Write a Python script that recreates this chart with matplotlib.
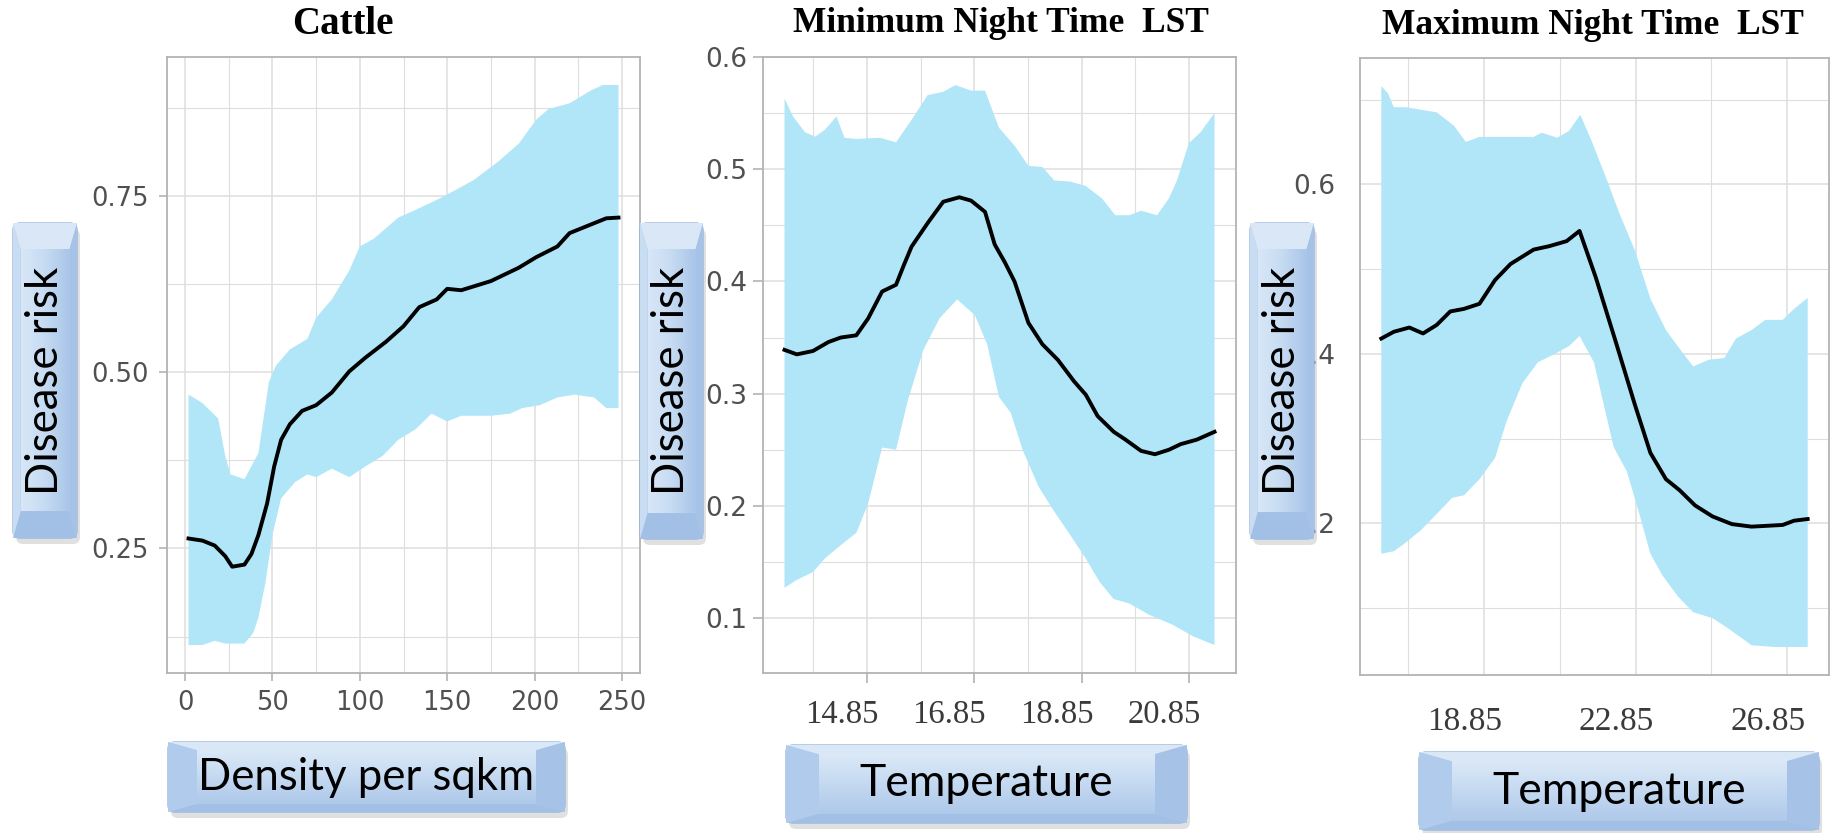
import numpy as np
import matplotlib
matplotlib.use("Agg")
import matplotlib.pyplot as plt
from matplotlib.patches import FancyBboxPatch, Polygon
from matplotlib.colors import LinearSegmentedColormap
from matplotlib.transforms import ScaledTranslation

# ---- data ----
# Cattle
cattle_x = [2, 10, 17, 23, 27, 34, 38, 42, 47, 51, 55, 60, 67, 75, 84, 94, 103, 115, 125,
            134, 144, 150, 158, 175, 191, 201, 213, 220, 229, 241, 248]
cattle_mean = [0.264, 0.261, 0.254, 0.239, 0.224, 0.227, 0.242, 0.269, 0.314, 0.366, 0.404,
               0.426, 0.445, 0.453, 0.471, 0.501, 0.520, 0.543, 0.565, 0.592, 0.603, 0.618,
               0.616, 0.629, 0.648, 0.663, 0.678, 0.697, 0.706, 0.718, 0.719]
cattle_hi_x = [2, 10, 19, 23, 26, 34, 42, 48, 52, 60, 70, 75, 84, 94, 100, 108, 122, 132, 148,
               165, 179, 191, 201, 208, 220, 232, 239, 248]
cattle_hi = [0.468, 0.456, 0.434, 0.381, 0.355, 0.348, 0.385, 0.486, 0.509, 0.532, 0.547,
             0.577, 0.603, 0.644, 0.678, 0.689, 0.719, 0.730, 0.749, 0.772, 0.798, 0.824,
             0.858, 0.873, 0.881, 0.899, 0.907, 0.907]
cattle_lo_x = [2, 10, 17, 23, 34, 39, 42, 46, 50, 55, 63, 70, 75, 84, 94, 103, 113, 122, 132,
               141, 150, 158, 175, 186, 193, 203, 213, 223, 234, 241, 248]
cattle_lo = [0.113, 0.113, 0.119, 0.115, 0.115, 0.130, 0.152, 0.201, 0.269, 0.321, 0.344,
             0.355, 0.351, 0.363, 0.351, 0.366, 0.381, 0.404, 0.419, 0.441, 0.430, 0.438,
             0.438, 0.441, 0.449, 0.453, 0.464, 0.468, 0.464, 0.449, 0.449]

# Minimum night time LST
min_x = [13.31, 13.54, 13.84, 14.13, 14.36, 14.65, 14.87, 15.13, 15.39, 15.54, 15.68, 15.98,
         16.27, 16.57, 16.79, 17.05, 17.23, 17.42, 17.60, 17.86, 18.12, 18.41, 18.71, 18.93,
         19.15, 19.45, 19.67, 19.96, 20.22, 20.48, 20.70, 21.00, 21.33]
min_mean = [0.339, 0.335, 0.338, 0.346, 0.350, 0.352, 0.367, 0.391, 0.397, 0.415, 0.431,
            0.452, 0.471, 0.475, 0.472, 0.462, 0.433, 0.417, 0.400, 0.363, 0.344, 0.330,
            0.311, 0.299, 0.280, 0.266, 0.259, 0.249, 0.246, 0.250, 0.255, 0.259, 0.266]
min_hi_x = [13.31, 13.47, 13.69, 13.88, 14.06, 14.28, 14.43, 14.65, 15.09, 15.39, 15.68,
            15.98, 16.27, 16.50, 16.79, 17.05, 17.31, 17.60, 17.86, 18.12, 18.34, 18.64,
            18.93, 19.23, 19.48, 19.74, 19.96, 20.26, 20.48, 20.63, 20.85, 21.07, 21.33]
min_hi = [0.563, 0.547, 0.533, 0.529, 0.535, 0.547, 0.528, 0.527, 0.528, 0.524, 0.544,
          0.566, 0.569, 0.575, 0.570, 0.570, 0.537, 0.521, 0.503, 0.502, 0.490, 0.489,
          0.485, 0.474, 0.459, 0.459, 0.463, 0.459, 0.474, 0.490, 0.523, 0.533, 0.550]
min_lo_x = [13.31, 13.54, 13.84, 14.06, 14.36, 14.65, 14.87, 15.13, 15.39, 15.61, 15.90,
            16.20, 16.53, 16.86, 17.09, 17.31, 17.53, 17.75, 18.05, 18.34, 18.64, 18.93,
            19.19, 19.45, 19.74, 20.11, 20.55, 20.92, 21.33]
min_lo = [0.127, 0.134, 0.141, 0.153, 0.165, 0.176, 0.202, 0.252, 0.250, 0.294, 0.339,
          0.367, 0.384, 0.370, 0.344, 0.297, 0.283, 0.250, 0.217, 0.195, 0.174, 0.153,
          0.132, 0.117, 0.113, 0.103, 0.094, 0.084, 0.076]

# Maximum night time LST
max_x = [16.14, 16.47, 16.88, 17.24, 17.60, 17.96, 18.32, 18.73, 19.14, 19.55, 20.16, 20.57,
         21.03, 21.37, 21.80, 22.32, 22.83, 23.24, 23.65, 24.01, 24.42, 24.88, 25.39, 25.91,
         26.32, 26.73, 27.03, 27.39]
max_mean = [0.418, 0.426, 0.431, 0.424, 0.434, 0.450, 0.453, 0.459, 0.487, 0.506, 0.523,
            0.527, 0.533, 0.545, 0.490, 0.415, 0.340, 0.283, 0.252, 0.239, 0.221, 0.208,
            0.199, 0.196, 0.197, 0.198, 0.203, 0.205]
max_hi_x = [16.14, 16.32, 16.47, 16.78, 17.19, 17.60, 18.06, 18.37, 18.73, 19.34, 20.16,
            20.37, 20.78, 21.09, 21.39, 21.70, 22.11, 22.42, 22.83, 23.24, 23.65, 24.06,
            24.37, 24.78, 25.19, 25.50, 25.91, 26.27, 26.73, 27.03, 27.39]
max_hi = [0.716, 0.707, 0.691, 0.691, 0.688, 0.685, 0.669, 0.650, 0.656, 0.656, 0.656,
          0.661, 0.655, 0.663, 0.682, 0.650, 0.603, 0.566, 0.522, 0.465, 0.428, 0.403,
          0.385, 0.393, 0.395, 0.418, 0.428, 0.440, 0.440, 0.453, 0.466]
max_lo_x = [16.14, 16.47, 16.78, 17.19, 17.60, 18.01, 18.32, 18.73, 19.14, 19.45, 19.86,
            20.27, 20.68, 21.09, 21.37, 21.75, 22.01, 22.27, 22.62, 22.93, 23.24, 23.55,
            23.96, 24.37, 24.88, 25.29, 25.91, 26.52, 27.39]
max_lo = [0.164, 0.167, 0.177, 0.192, 0.211, 0.230, 0.233, 0.252, 0.277, 0.321, 0.365,
          0.390, 0.399, 0.409, 0.421, 0.390, 0.340, 0.290, 0.261, 0.214, 0.164, 0.139,
          0.114, 0.095, 0.088, 0.076, 0.056, 0.054, 0.054]

titles = ["Cattle", "Minimum Night Time  LST", "Maximum Night Time  LST"]
xlabels = ["Density per sqkm", "Temperature", "Temperature"]
ylabel = "Disease risk"

W, H = 1842, 833
FILL = "#b0e6f8"
GRID = "#dedede"
BORDER = "#b3b3b3"

fig = plt.figure(figsize=(W / 100, H / 100), dpi=100)


def px_axes(left, top, right, bottom):
    return fig.add_axes([left / W, 1 - bottom / H, (right - left) / W, (bottom - top) / H])


def expand(vals, f=0.05):
    lo, hi = min(vals), max(vals)
    d = (hi - lo) * f
    return lo - d, hi + d


def draw_panel(ax, mx, my, hx, hy, lx, ly):
    ax.fill(np.concatenate([hx, lx[::-1]]), np.concatenate([hy, ly[::-1]]),
            color=FILL, lw=0, zorder=2)
    ax.plot(mx, my, color="black", lw=2.8, zorder=3, solid_joinstyle="round")
    ax.set_xlim(*expand(list(hx) + list(lx) + list(mx)))
    ax.set_ylim(*expand(list(hy) + list(ly)))
    ax.set_axisbelow(True)
    ax.grid(True, which="major", color=GRID, lw=1.1)
    ax.grid(True, which="minor", color=GRID, lw=0.8)
    for s in ax.spines.values():
        s.set_color(BORDER)
        s.set_linewidth(1.3)
    ax.tick_params(which="minor", length=0)


# panel 1
ax1 = px_axes(167, 57, 640, 673)
draw_panel(ax1, cattle_x, cattle_mean, cattle_hi_x, cattle_hi, cattle_lo_x, cattle_lo)
ax1.set_xticks([0, 50, 100, 150, 200, 250])
ax1.set_xticks([25, 75, 125, 175, 225], minor=True)
ax1.set_yticks([0.25, 0.50, 0.75], ["0.25", "0.50", "0.75"])
ax1.set_yticks([0.125, 0.375, 0.625, 0.875], minor=True)
ax1.tick_params(which="major", colors=BORDER, labelcolor="#505050", labelsize=18.5,
                length=6, width=1.2)
ax1.tick_params(axis="x", pad=6)
ax1.tick_params(axis="y", pad=7)

# panel 2
ax2 = px_axes(763, 57, 1236, 673)
draw_panel(ax2, min_x, min_mean, min_hi_x, min_hi, min_lo_x, min_lo)
ax2.set_xticks([14.85, 16.85, 18.85, 20.85], ["14.85", "16.85", "18.85", "20.85"])
ax2.set_xticks([13.85, 15.85, 17.85, 19.85], minor=True)
ax2.set_yticks([0.1, 0.2, 0.3, 0.4, 0.5, 0.6])
ax2.set_yticks([0.15, 0.25, 0.35, 0.45, 0.55], minor=True)
ax2.tick_params(which="major", colors=BORDER, length=7, width=1.2)
ax2.tick_params(axis="y", labelcolor="#505050", labelsize=19, pad=4)
ax2.tick_params(axis="x", labelcolor="#3a3a3a", labelsize=23.5, pad=12)
for lab in ax2.get_xticklabels():
    lab.set_fontfamily("Liberation Serif")
    lab.set_transform(lab.get_transform() + ScaledTranslation(-0.25, 0, fig.dpi_scale_trans))

# panel 3
ax3 = px_axes(1360, 58, 1829, 675)
draw_panel(ax3, max_x, max_mean, max_hi_x, max_hi, max_lo_x, max_lo)
ax3.set_xticks([18.85, 22.85, 26.85], ["18.85", "22.85", "26.85"])
ax3.set_xticks([16.85, 20.85, 24.85], minor=True)
ax3.set_yticks([0.2, 0.4, 0.6])
ax3.set_yticks([0.1, 0.3, 0.5, 0.7], minor=True)
ax3.tick_params(which="major", length=0)
ax3.tick_params(axis="y", labelcolor="#505050", labelsize=19, pad=18)
ax3.tick_params(axis="x", labelcolor="#3a3a3a", labelsize=24, pad=23)
for lab in ax3.get_xticklabels():
    lab.set_fontfamily("Liberation Serif")
    lab.set_transform(lab.get_transform() + ScaledTranslation(-0.19, 0, fig.dpi_scale_trans))

# titles
fig.text(343 / W, 1 - 25 / H, titles[0], fontsize=28, fontweight="bold",
         family="Liberation Serif", ha="center", va="center")
fig.text(1001 / W, 1 - 24 / H, titles[1], fontsize=25.5, fontweight="bold",
         family="Liberation Serif", ha="center", va="center")
fig.text(1593 / W, 1 - 25 / H, titles[2], fontsize=25.5, fontweight="bold",
         family="Liberation Serif", ha="center", va="center")

# overlay for the button-style axis labels, pixel coordinates (y down)
ov = fig.add_axes([0, 0, 1, 1], zorder=10)
ov.patch.set_alpha(0)
ov.axis("off")

face_h = LinearSegmentedColormap.from_list("fh", ["#dbe9f7", "#c4d9f1", "#afc9ea"])
face_v = LinearSegmentedColormap.from_list("fv", ["#d8e7f7", "#c6dbf2", "#a9c5e8"])


def draw_button(x0, y0, x1, y1, text, vertical, size):
    w, h = x1 - x0, y1 - y0
    ov.add_patch(FancyBboxPatch((x0 + 3, y0 + 6), w, h, boxstyle="round,pad=0,rounding_size=7",
                                fc="#9a9a9a", ec="none", alpha=0.3, zorder=1))
    ov.add_patch(FancyBboxPatch((x0, y0), w, h, boxstyle="round,pad=0,rounding_size=7",
                                fc="#b3cdec", ec="#9ab6dc", lw=1, zorder=2))
    short = w if vertical else h
    if vertical:
        dx, dy = 0.12 * short, 0.42 * short
    else:
        dx, dy = 0.42 * short, 0.12 * short
    ix0, iy0, ix1, iy1 = x0 + dx, y0 + dy, x1 - dx, y1 - dy
    ov.add_patch(Polygon([(x0, y0), (x1, y0), (ix1, iy0), (ix0, iy0)],
                         fc="#d9e7f6", ec="none", zorder=3))
    ov.add_patch(Polygon([(x0, y1), (x1, y1), (ix1, iy1), (ix0, iy1)],
                         fc="#a2bfe5", ec="none", zorder=3))
    ov.add_patch(Polygon([(x0, y0), (x0, y1), (ix0, iy1), (ix0, iy0)],
                         fc="#c8dcf2" if vertical else "#b0cbec", ec="none", zorder=3))
    ov.add_patch(Polygon([(x1, y0), (x1, y1), (ix1, iy1), (ix1, iy0)],
                         fc="#a6c2e6", ec="none", zorder=3))
    if vertical:
        grad = np.linspace(0, 1, 64)[None, :]
        ov.imshow(grad, cmap=face_v, extent=(ix0, ix1, iy1, iy0), aspect="auto", zorder=4)
    else:
        grad = np.linspace(0, 1, 64)[:, None]
        ov.imshow(grad, cmap=face_h, extent=(ix0, ix1, iy1, iy0), aspect="auto", zorder=4)
    ov.text((x0 + x1) / 2, (y0 + y1) / 2, text, rotation=90 if vertical else 0,
            ha="center", va="center", fontsize=size, family="Lato", color="black", zorder=5)


draw_button(13, 223, 77, 538, ylabel, True, 31.5)
draw_button(640, 223, 703, 539, ylabel, True, 31.5)
draw_button(1250, 223, 1314, 539, ylabel, True, 31.5)
draw_button(168, 742, 565, 812, xlabels[0], False, 31.5)
draw_button(786, 745, 1187, 823, xlabels[1], False, 32)
draw_button(1419, 752, 1819, 830, xlabels[2], False, 32)

ov.set_xlim(0, W)
ov.set_ylim(H, 0)

fig.savefig("out.png", dpi=100, facecolor="white")
